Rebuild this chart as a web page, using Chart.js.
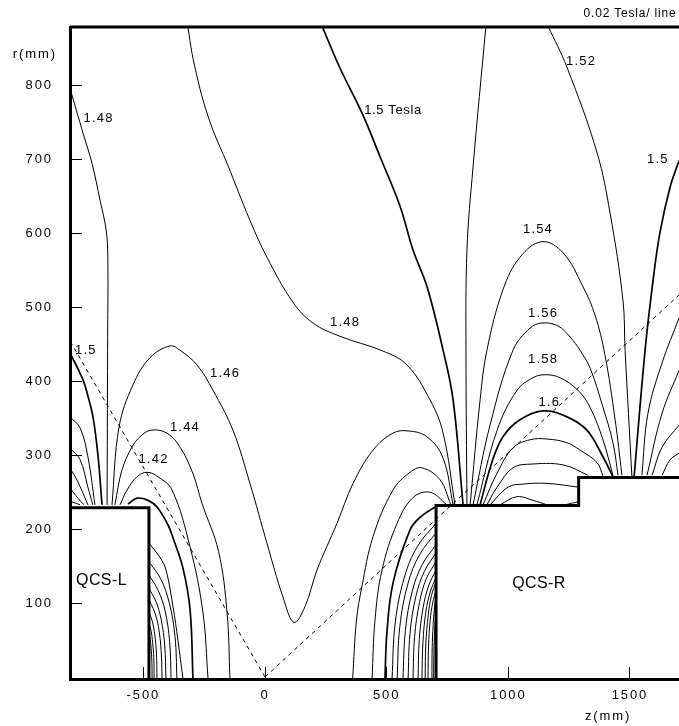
<!DOCTYPE html>
<html><head><meta charset="utf-8">
<script src="https://cdn.jsdelivr.net/npm/chart.js@4"></script>
<style>html,body{margin:0;padding:0;background:#fff}canvas{display:block}</style>
</head><body><canvas id="c" width="679" height="726"></canvas>
<script>
// Axis values (mm)
const zTicks = [-500, 0, 500, 1000, 1500];
const rTicks = [100, 200, 300, 400, 500, 600, 700, 800];
const zRange = [-801.5, 1701.5];
const rRange = [-2.7, 879.5];

// Magnet outlines and sight lines [z, r]
const magnetL = [[-801.5,229],[-477,229],[-477,-2.7]];
const magnetR = [[703,-2.7],[703,232],[1289,232],[1289,270],[1702,270]];
const topEdge = [[-801.5,879.5],[1701.5,879.5]];
const dashL = [[0,0],[-802,455]];
const dashR = [[0,0],[1702,517]];

// Field contours [z, r]: thin lines
const c148Left = [[-802,797],[-748,736],[-711,695],[-678,645],[-653,605],[-646,568],[-647,442],[-649,233]];
const cL1 = [[-802,352],[-760,337],[-728,298],[-699,233]];
const cL2 = [[-802,310],[-760,294],[-728,257],[-708,233]];
const cL3 = [[-802,283],[-769,264],[-728,233]];
const cL4 = [[-802,256],[-769,242],[-744,233]];
const cL5 = [[-802,238],[-760,233]];
const c146 = [[-629,233],[-600,338],[-543,395],[-473,432],[-390,448],[-349,442],[-279,422],[-214,388],[-132,334],[-62,262],[8,181],[74,108],[119,74],[164,95],[214,145],[296,208],[362,262],[444,307],[526,330],[588,333],[666,325],[732,296],[773,233]];
const c144 = [[-617,233],[-588,280],[-547,311],[-514,325],[-469,334],[-403,330],[-349,311],[-296,275],[-259,235],[-191,170],[-156,87],[-144,-3]];
const c142 = [[-596,233],[-567,253],[-526,271],[-485,277],[-440,271],[-382,253],[-308,176],[-255,87],[-234,-3]];
const cA = [[-477,181],[-432,162],[-407,145],[-378,95],[-358,50],[-337,-3]];
const cA1 = [[-362,-3],[-370,55],[-394,101],[-429,133],[-477,156]];
const cA2 = [[-386,-3],[-392,48],[-411,90],[-439,117],[-477,138]];
const cA3 = [[-407,-3],[-412,42],[-427,78],[-448,102],[-477,120]];
const cA4 = [[-423,-3],[-427,36],[-438,68],[-454,88],[-477,104]];
const cA5 = [[-444,-3],[-446,31],[-453,57],[-463,75],[-477,88]];
const cA6 = [[-456,-3],[-457,26],[-462,47],[-468,62],[-477,73]];
const cA7 = [[-464,-3],[-465,21],[-468,39],[-472,51],[-477,60]];
const c148Mid = [[-316,878],[-300,844],[-279,812],[-255,781],[-214,740],[-156,695],[-62,618],[8,568],[115,507],[197,479],[308,461],[485,441],[584,422],[678,375],[732,330],[781,233]];
const c144R = [[360,-3],[376,77],[398,122],[444,190],[526,253],[596,277],[645,283],[719,267],[764,233]];
const c142R = [[440,-3],[452,77],[481,145],[543,208],[609,243],[678,250],[748,233]];
const cB1 = [[522,-3],[535,73],[573,135],[627,177],[703,208]];
const cB2 = [[543,-3],[554,68],[588,127],[636,166],[703,195]];
const cB3 = [[567,-3],[577,63],[605,116],[646,152],[703,179]];
const cB4 = [[588,-3],[596,59],[620,109],[655,143],[703,168]];
const cB5 = [[608,-3],[615,55],[635,101],[663,133],[703,156]];
const cB6 = [[629,-3],[634,51],[650,94],[672,123],[703,145]];
const cB7 = [[645,-3],[649,47],[661,88],[679,115],[703,135]];
const cB8 = [[658,-3],[661,45],[671,84],[684,110],[703,129]];
const cB9 = [[670,-3],[672,41],[679,77],[689,100],[703,118]];
const cB10 = [[686,-3],[687,38],[691,70],[696,92],[703,108]];
const cB11 = [[693,-3],[694,30],[696,55],[699,72],[703,86]];
const c152A = [[908,881],[855,690],[830,578],[826,442],[830,233]];
const c152B = [[1163,881],[1241,825],[1365,709],[1418,628],[1471,510],[1480,442],[1508,271]];
const c154 = [[843,233],[884,375],[912,442],[978,524],[1048,568],[1138,589],[1225,574],[1307,528],[1356,490],[1397,436],[1439,348],[1467,273]];
const c156 = [[855,233],[925,341],[1019,442],[1089,472],[1138,479],[1204,475],[1254,460],[1295,442],[1336,418],[1389,365],[1430,317],[1451,273]];
const c158 = [[871,233],[954,334],[1036,388],[1102,405],[1151,409],[1212,405],[1286,388],[1336,365],[1389,321],[1430,273]];
const c162 = [[896,233],[954,276],[1019,310],[1089,321],[1159,322],[1241,317],[1295,307],[1365,290],[1389,272]];
const c164 = [[912,233],[954,257],[1019,283],[1089,288],[1225,287],[1328,273]];
const c166 = [[925,233],[999,257],[1060,261],[1159,262],[1286,257]];
const c168a = [[966,233],[1036,244],[1102,239],[1159,233]];
const c168b = [[1233,233],[1286,237]];
const cR1 = [[1702,486],[1632,425],[1574,357],[1549,273]];
const cR2 = [[1702,415],[1632,357],[1570,273]];
const cR3 = [[1702,341],[1632,311],[1591,273]];
const cR4 = [[1702,303],[1665,294],[1632,273]];

// Field contours [z, r]: heavy lines
const c150Left = [[-799,437],[-748,402],[-731,384],[-707,352],[-686,298],[-670,233]];
const c140L = [[-563,234],[-526,242],[-481,239],[-444,230],[-399,206],[-378,188],[-337,147],[-308,91],[-296,-3]];
const c140R = [[493,-3],[501,60],[526,127],[596,199],[637,216],[699,230]];
const c150Mid = [[234,881],[308,824],[403,760],[473,704],[555,637],[608,578],[666,528],[732,442],[773,375],[814,233]];
const c150Right = [[1702,699],[1665,663],[1623,601],[1595,537],[1562,442],[1517,271]];
const c160 = [[884,233],[933,291],[978,325],[1048,348],[1143,360],[1241,352],[1323,334],[1389,298],[1430,271]];

const thinLines = [c148Left,cL1,cL2,cL3,cL4,cL5,c146,c144,c142,cA,cA1,cA2,cA3,cA4,cA5,cA6,cA7,c148Mid,c144R,c142R,cB1,cB2,cB3,cB4,cB5,cB6,cB7,cB8,cB9,cB10,cB11,c152A,c152B,c154,c156,c158,c162,c164,c166,c168a,c168b,cR1,cR2,cR3,cR4];
const heavyLines = [c150Left,c140L,c140R,c150Mid,c150Right,c160];

// Text annotations
const fieldLabels = ["1.48","1.5 Tesla","1.52","1.5","1.54","1.56","1.58","1.6","1.48","1.46","1.44","1.42","1.5"];
const fieldLabelZ = [-684,526,1299,1615,1122,1143,1143,1169,329,-164,-329,-458,-736];
const fieldLabelR = [756,767,833,700,605,492,430,372,480,411,338,295,442];
const magnetLabels = ["QCS-L","QCS-R"];
const magnetLabelZ = [-672,1126];
const magnetLabelR = [130,127];
const noteText = "0.02 Tesla/ line";
const zTitle = "z(mm)";
const rTitle = "r(mm)";

const FONT = '"Liberation Sans", Arial, sans-serif';
const toPts = a => a.map(p => ({x:p[0], y:p[1]}));
const line = (a, w, extra) => Object.assign({data:toPts(a), borderColor:'#000', borderWidth:w, pointRadius:0, showLine:true, tension:0.38, fill:false}, extra||{});

const datasets = [];
thinLines.forEach(a => datasets.push(line(a, 1)));
heavyLines.forEach(a => datasets.push(line(a, 1.7)));
[dashL, dashR].forEach(a => datasets.push(line(a, 1, {borderDash:[4,4], tension:0})));
[magnetL, magnetR].forEach(a => datasets.push(line(a, 3, {tension:0, borderJoinStyle:'miter'})));
datasets.push(line(topEdge, 3, {tension:0, clip:false}));

const textPlugin = {
  id:'texts',
  beforeDraw(chart){ chart.ctx.letterSpacing = '1.9px'; },
  afterDraw(chart){
    const ctx = chart.ctx, sx = chart.scales.x, sy = chart.scales.y;
    const put = (t, z, r, font, sp, align) => {
      ctx.save();
      ctx.font = font; ctx.letterSpacing = sp; ctx.fillStyle = '#000';
      ctx.textAlign = align||'center'; ctx.textBaseline = 'middle';
      ctx.fillText(t, sx.getPixelForValue(z), sy.getPixelForValue(r));
      ctx.restore();
    };
    fieldLabels.forEach((t,i) => put(t, fieldLabelZ[i], fieldLabelR[i], '13px '+FONT, t.length>4 ? '0.6px' : '1.2px'));
    magnetLabels.forEach((t,i) => put(t, magnetLabelZ[i], magnetLabelR[i], '16px '+FONT, '0.4px'));
    put(noteText, 1500, 897, '12px '+FONT, '0.8px');
    put(zTitle, 1410, -53, '13px '+FONT, '1.9px');
    put(rTitle, -946, 843, '13px '+FONT, '1.9px');
  }
};

const axisCommon = {
  type:'linear',
  border:{display:true, color:'#000', width:3},
  grid:{drawOnChartArea:false, drawTicks:true, tickLength:-12, tickColor:'#000', tickWidth:1, color:'#000'}
};

new Chart(document.getElementById('c'), {
  type:'scatter',
  data:{datasets},
  plugins:[textPlugin],
  options:{
    responsive:false, animation:false, devicePixelRatio:1,
    layout:{padding:{top:27,left:0,right:0,bottom:0}},
    plugins:{legend:{display:false}, tooltip:{enabled:false}, title:{display:false}},
    scales:{
      x:Object.assign({}, axisCommon, {
        position:'bottom', min:zRange[0], max:zRange[1],
        ticks:{color:'#000', font:{family:FONT, size:13}, padding:21, autoSkip:false, maxRotation:0, minRotation:0, callback:v=>String(v)},
        afterBuildTicks:s=>{s.ticks = zTicks.map(v=>({value:v}));},
        afterFit:s=>{s.height = 47; s.paddingLeft = 0; s.paddingRight = 0;}
      }),
      y:Object.assign({}, axisCommon, {
        position:'left', min:rRange[0], max:rRange[1],
        ticks:{color:'#000', font:{family:FONT, size:13}, padding:29, autoSkip:false, callback:v=>String(v)},
        afterBuildTicks:s=>{s.ticks = rTicks.map(v=>({value:v}));},
        afterFit:s=>{s.width = 70; s.paddingTop = 0; s.paddingBottom = 0;}
      })
    }
  }
});
</script></body></html>
